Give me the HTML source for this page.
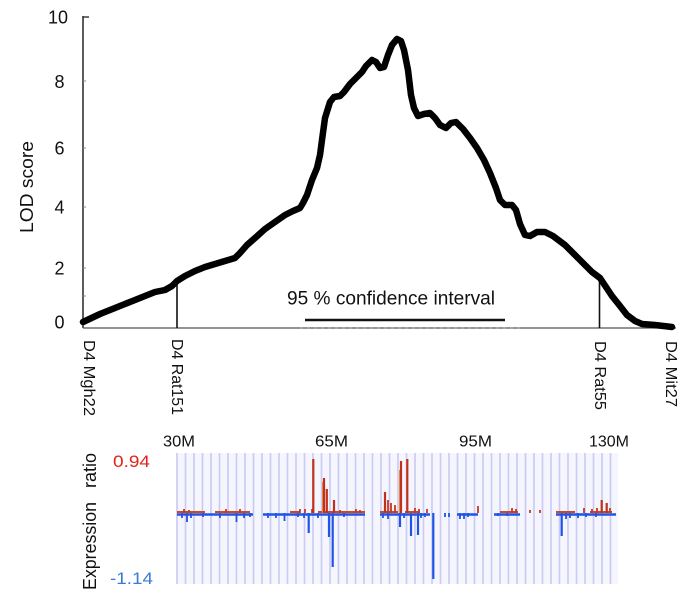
<!DOCTYPE html>
<html>
<head>
<meta charset="utf-8">
<style>
  html,body{margin:0;padding:0;background:#fff;}
  svg{display:block;}
  text{font-family:"Liberation Sans",Arial,sans-serif;}
</style>
</head>
<body>
<svg width="685" height="595" viewBox="0 0 685 595" xmlns="http://www.w3.org/2000/svg">
  <!-- ===== TOP LOD CHART ===== -->
  <!-- y axis -->
  <line x1="83" y1="16" x2="83" y2="328" stroke="#333" stroke-width="1.6"/>
  <line x1="83" y1="17" x2="89" y2="17" stroke="#333" stroke-width="1.4"/>
  <line x1="83" y1="81" x2="86" y2="81" stroke="#888" stroke-width="1"/>
  <line x1="83" y1="148" x2="86" y2="148" stroke="#888" stroke-width="1"/>
  <line x1="83" y1="207" x2="86" y2="207" stroke="#888" stroke-width="1"/>
  <line x1="83" y1="268" x2="86" y2="268" stroke="#888" stroke-width="1"/>
  <line x1="83" y1="296" x2="86" y2="296" stroke="#888" stroke-width="1"/>
  <!-- x axis -->
  <line x1="83" y1="328" x2="676" y2="328" stroke="#555" stroke-width="1.2"/>
  <line x1="300" y1="328" x2="520" y2="328" stroke="#999" stroke-width="1.5" stroke-dasharray="3,4"/>

  <!-- tick labels -->
  <g font-size="18" fill="#111" text-anchor="middle">
    <text x="58" y="23.5">10</text>
    <text x="59.5" y="88">8</text>
    <text x="59.5" y="154.5">6</text>
    <text x="59.5" y="213.5">4</text>
    <text x="59.5" y="274.5">2</text>
    <text x="59.5" y="328.5">0</text>
  </g>
  <text transform="translate(33,187) rotate(-90)" font-size="18" fill="#111" text-anchor="middle" textLength="92" lengthAdjust="spacingAndGlyphs">LOD score</text>

  <!-- marker vertical lines -->
  <line x1="177" y1="281" x2="177" y2="328" stroke="#111" stroke-width="1.6"/>
  <line x1="599.5" y1="278" x2="599.5" y2="328" stroke="#111" stroke-width="1.6"/>

  <!-- confidence interval -->
  <text x="287" y="304.5" font-size="19" fill="#111" textLength="208" lengthAdjust="spacingAndGlyphs">95 % confidence interval</text>
  <line x1="305" y1="320" x2="505" y2="320" stroke="#111" stroke-width="2.6"/>

  <!-- LOD curve -->
  <polyline fill="none" stroke="#000" stroke-width="6.5" stroke-linejoin="round" stroke-linecap="round"
    points="83,322 100,314 115,308 130,302 145,296 155,292 165,290 172,286 177,281 185,276 195,271 205,267 215,264 225,261 235,258 240,253 247,245 255,238 265,229 275,222 285,215 293,211 300,208 303,203 307,195 312,180 317,168 320,155 322,140 325,118 330,102 334,97 340,96 344,92 350,84 356,78 362,72 366,66 372,60 376,62 380,68 384,67 388,55 392,45 397,39 401,41 404,50 408,70 411,95 414,108 418,116 424,114 430,113 435,118 440,125 446,128 451,123 456,122 463,129 470,138 477,148 484,160 490,173 496,188 500,200 505,205 512,205 516,210 520,224 525,235 530,236 537,232 545,232 553,236 565,245 580,260 592,272 600,278 606,287 612,296 620,306 627,315 635,321 642,324 655,325 672,327"/>

  <!-- rotated marker labels (clockwise) -->
  <g font-size="16" fill="#111">
    <text transform="translate(84,340) rotate(90)" textLength="76" lengthAdjust="spacingAndGlyphs">D4 Mgh22</text>
    <text transform="translate(172,339) rotate(90)" textLength="76" lengthAdjust="spacingAndGlyphs">D4 Rat151</text>
    <text transform="translate(595,341) rotate(90)" textLength="69" lengthAdjust="spacingAndGlyphs">D4 Rat55</text>
    <text transform="translate(666,341) rotate(90)" textLength="66" lengthAdjust="spacingAndGlyphs">D4 Mit27</text>
  </g>

  <!-- ===== BOTTOM EXPRESSION PANEL ===== -->
  <g font-size="16" fill="#111">
    <text x="163" y="446.5" textLength="32" lengthAdjust="spacingAndGlyphs">30M</text>
    <text x="315" y="446.5" textLength="33" lengthAdjust="spacingAndGlyphs">65M</text>
    <text x="459" y="446.5" textLength="33" lengthAdjust="spacingAndGlyphs">95M</text>
    <text x="589" y="446.5" textLength="40" lengthAdjust="spacingAndGlyphs">130M</text>
  </g>
  <text x="113" y="467" font-size="17" fill="#e2231a" textLength="37" lengthAdjust="spacingAndGlyphs">0.94</text>
  <text x="110" y="584" font-size="17" fill="#3b7bd6" textLength="43" lengthAdjust="spacingAndGlyphs">-1.14</text>
  <text transform="translate(96,590) rotate(-90)" font-size="18" fill="#111" textLength="88" lengthAdjust="spacingAndGlyphs">Expression</text>
  <text transform="translate(96,488) rotate(-90)" font-size="18" fill="#111" textLength="35" lengthAdjust="spacingAndGlyphs">ratio</text>

  <!-- panel background -->
  <rect x="176" y="453" width="442" height="131" fill="#f5f5fd"/>
  <!-- vertical lines -->
  <g stroke="#cacaf3" stroke-width="1.6">
    <line x1="177" y1="453" x2="177" y2="584"/><line x1="185.5" y1="453" x2="185.5" y2="584"/>
    <line x1="194" y1="453" x2="194" y2="584"/><line x1="202.5" y1="453" x2="202.5" y2="584"/>
    <line x1="211" y1="453" x2="211" y2="584"/><line x1="219.5" y1="453" x2="219.5" y2="584"/>
    <line x1="228" y1="453" x2="228" y2="584"/><line x1="236.5" y1="453" x2="236.5" y2="584"/>
    <line x1="245" y1="453" x2="245" y2="584"/><line x1="253.5" y1="453" x2="253.5" y2="584"/>
    <line x1="262" y1="453" x2="262" y2="584"/><line x1="270.5" y1="453" x2="270.5" y2="584"/>
    <line x1="279" y1="453" x2="279" y2="584"/><line x1="287.5" y1="453" x2="287.5" y2="584"/>
    <line x1="296" y1="453" x2="296" y2="584"/><line x1="304.5" y1="453" x2="304.5" y2="584"/>
    <line x1="313" y1="453" x2="313" y2="584"/><line x1="321.5" y1="453" x2="321.5" y2="584"/>
    <line x1="330" y1="453" x2="330" y2="584"/><line x1="338.5" y1="453" x2="338.5" y2="584"/>
    <line x1="347" y1="453" x2="347" y2="584"/><line x1="355.5" y1="453" x2="355.5" y2="584"/>
    <line x1="364" y1="453" x2="364" y2="584"/><line x1="372.5" y1="453" x2="372.5" y2="584"/>
    <line x1="381" y1="453" x2="381" y2="584"/><line x1="389.5" y1="453" x2="389.5" y2="584"/>
    <line x1="398" y1="453" x2="398" y2="584"/><line x1="406.5" y1="453" x2="406.5" y2="584"/>
    <line x1="415" y1="453" x2="415" y2="584"/><line x1="423.5" y1="453" x2="423.5" y2="584"/>
    <line x1="432" y1="453" x2="432" y2="584"/><line x1="440.5" y1="453" x2="440.5" y2="584"/>
    <line x1="449" y1="453" x2="449" y2="584"/><line x1="457.5" y1="453" x2="457.5" y2="584"/>
    <line x1="466" y1="453" x2="466" y2="584"/><line x1="474.5" y1="453" x2="474.5" y2="584"/>
    <line x1="483" y1="453" x2="483" y2="584"/><line x1="491.5" y1="453" x2="491.5" y2="584"/>
    <line x1="500" y1="453" x2="500" y2="584"/><line x1="508.5" y1="453" x2="508.5" y2="584"/>
    <line x1="517" y1="453" x2="517" y2="584"/><line x1="525.5" y1="453" x2="525.5" y2="584"/>
    <line x1="534" y1="453" x2="534" y2="584"/><line x1="542.5" y1="453" x2="542.5" y2="584"/>
    <line x1="551" y1="453" x2="551" y2="584"/><line x1="559.5" y1="453" x2="559.5" y2="584"/>
    <line x1="568" y1="453" x2="568" y2="584"/><line x1="576.5" y1="453" x2="576.5" y2="584"/>
    <line x1="585" y1="453" x2="585" y2="584"/><line x1="593.5" y1="453" x2="593.5" y2="584"/>
    <line x1="602" y1="453" x2="602" y2="584"/><line x1="610.5" y1="453" x2="610.5" y2="584"/>
  </g>

  <!-- baseline noise: blue below, red above -->
  <g stroke="#1f55e6" stroke-width="2.4">
    <line x1="177" y1="514.5" x2="253" y2="514.5"/>
    <line x1="263" y1="514.5" x2="365" y2="514.5"/>
    <line x1="380" y1="514.5" x2="430" y2="514.5"/>
    <line x1="457" y1="514.5" x2="478" y2="514.5"/>
    <line x1="494" y1="514.5" x2="520" y2="514.5"/>
    <line x1="556" y1="514.5" x2="616" y2="514.5"/>
  </g>
  <g stroke="#d2461c" stroke-width="2">
    <line x1="177" y1="512" x2="205" y2="512"/>
    <line x1="215" y1="512" x2="250" y2="512"/>
    <line x1="290" y1="512" x2="300" y2="512"/>
    <line x1="318" y1="512" x2="365" y2="512"/>
    <line x1="380" y1="512" x2="398" y2="512"/>
    <line x1="405" y1="512" x2="420" y2="512"/>
    <line x1="500" y1="512" x2="518" y2="512"/>
    <line x1="556" y1="512" x2="575" y2="512"/>
    <line x1="590" y1="512" x2="612" y2="512"/>
  </g>
  <!-- small blue ticks -->
  <g stroke="#1f55e6" stroke-width="1.8">
    <line x1="182" y1="513" x2="182" y2="518"/><line x1="187" y1="513" x2="187" y2="522"/>
    <line x1="191" y1="513" x2="191" y2="518"/><line x1="203" y1="513" x2="203" y2="517"/>
    <line x1="220" y1="513" x2="220" y2="518"/><line x1="236.5" y1="513" x2="236.5" y2="522"/>
    <line x1="244" y1="513" x2="244" y2="518"/><line x1="250" y1="513" x2="250" y2="517"/>
    <line x1="268" y1="513" x2="268" y2="518"/><line x1="276" y1="513" x2="276" y2="518"/>
    <line x1="284.5" y1="513" x2="284.5" y2="521"/><line x1="298" y1="513" x2="298" y2="517"/>
    <line x1="304" y1="513" x2="304" y2="518"/><line x1="318" y1="513" x2="318" y2="518"/>
    <line x1="344" y1="513" x2="344" y2="517"/><line x1="383" y1="513" x2="383" y2="518"/>
    <line x1="388" y1="513" x2="388" y2="519"/><line x1="404" y1="513" x2="404" y2="518"/>
    <line x1="421" y1="513" x2="421" y2="518"/><line x1="425" y1="513" x2="425" y2="517"/>
    <line x1="445" y1="513" x2="445" y2="517"/><line x1="449" y1="513" x2="449" y2="517"/>
    <line x1="460" y1="513" x2="460" y2="519"/><line x1="464" y1="513" x2="464" y2="519"/>
    <line x1="468" y1="513" x2="468" y2="517"/><line x1="498" y1="513" x2="498" y2="516"/>
    <line x1="507" y1="513" x2="507" y2="516"/><line x1="566" y1="513" x2="566" y2="519"/>
    <line x1="570" y1="513" x2="570" y2="518"/><line x1="578" y1="513" x2="578" y2="518"/>
    <line x1="586" y1="513" x2="586" y2="517"/><line x1="596" y1="513" x2="596" y2="517"/>
  </g>
  <!-- small red ticks -->
  <g stroke="#c9361b" stroke-width="1.8">
    <line x1="184" y1="513" x2="184" y2="509"/><line x1="189" y1="513" x2="189" y2="510"/>
    <line x1="226" y1="513" x2="226" y2="509"/><line x1="240" y1="513" x2="240" y2="509"/>
    <line x1="300" y1="513" x2="300" y2="509"/><line x1="305" y1="513" x2="305" y2="509"/>
    <line x1="312" y1="513" x2="312" y2="509"/><line x1="340" y1="513" x2="340" y2="510"/>
    <line x1="356" y1="513" x2="356" y2="509"/><line x1="360" y1="513" x2="360" y2="510"/>
    <line x1="388" y1="513" x2="388" y2="500"/><line x1="391" y1="513" x2="391" y2="503"/>
    <line x1="395" y1="513" x2="395" y2="505"/><line x1="415" y1="513" x2="415" y2="508"/>
    <line x1="419" y1="513" x2="419" y2="509"/><line x1="427" y1="513" x2="427" y2="509"/>
    <line x1="478" y1="513" x2="478" y2="506"/><line x1="512" y1="513" x2="512" y2="508"/>
    <line x1="516" y1="513" x2="516" y2="509"/><line x1="530" y1="513" x2="530" y2="510"/>
    <line x1="540" y1="513" x2="540" y2="510"/><line x1="584" y1="513" x2="584" y2="508"/>
    <line x1="592" y1="513" x2="592" y2="509"/><line x1="597" y1="513" x2="597" y2="508"/>
    <line x1="610" y1="513" x2="610" y2="508"/>
  </g>
  <!-- large red bars -->
  <g stroke="#c0301a" stroke-width="2.2">
    <line x1="313.3" y1="513" x2="313.3" y2="459"/>
    <line x1="324" y1="513" x2="324" y2="478"/>
    <line x1="326.8" y1="513" x2="326.8" y2="489"/>
    <line x1="334" y1="513" x2="334" y2="500"/>
    <line x1="385" y1="513" x2="385" y2="492"/>
    <line x1="401" y1="513" x2="401" y2="461"/>
    <line x1="407.3" y1="513" x2="407.3" y2="459"/>
    <line x1="601.7" y1="513" x2="601.7" y2="500"/>
    <line x1="606.7" y1="513" x2="606.7" y2="503"/>
  </g>
  <g stroke="#e8863a" stroke-width="1">
    <line x1="322.5" y1="513" x2="322.5" y2="482"/>
    <line x1="399.5" y1="513" x2="399.5" y2="470"/>
  </g>
  <!-- large blue bars -->
  <g stroke="#1f55e6" stroke-width="2.2">
    <line x1="308.7" y1="513" x2="308.7" y2="533"/>
    <line x1="329" y1="513" x2="329" y2="537"/>
    <line x1="332.7" y1="513" x2="332.7" y2="567"/>
    <line x1="400" y1="513" x2="400" y2="527"/>
    <line x1="411" y1="513" x2="411" y2="536"/>
    <line x1="418" y1="513" x2="418" y2="535"/>
    <line x1="433.3" y1="513" x2="433.3" y2="579"/>
    <line x1="561.7" y1="513" x2="561.7" y2="536"/>
  </g>
</svg>
</body>
</html>
